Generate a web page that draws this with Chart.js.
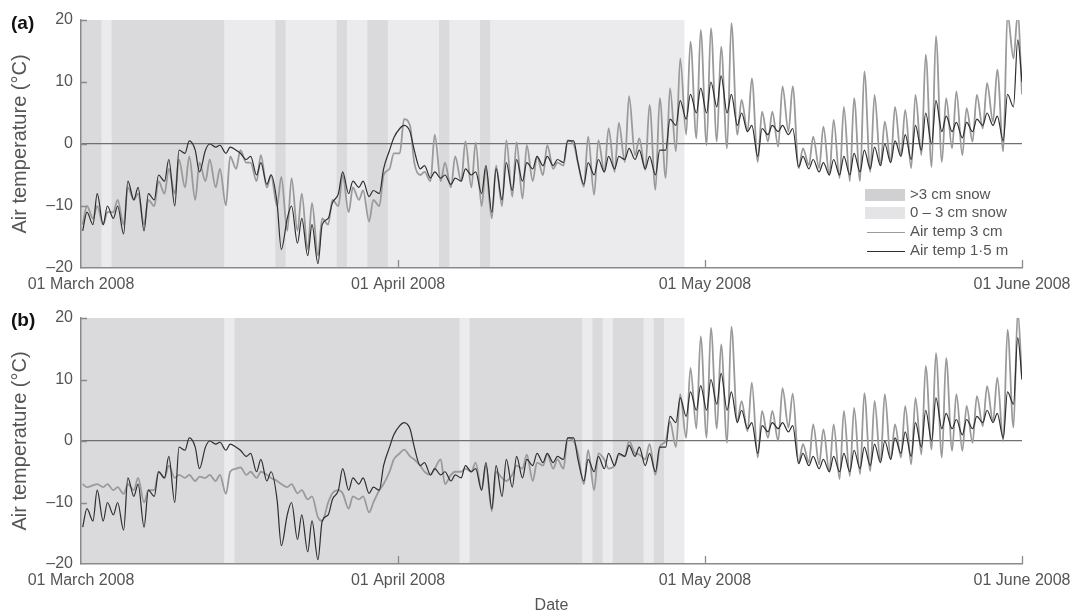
<!DOCTYPE html>
<html>
<head>
<meta charset="utf-8">
<script src="https://cdn.jsdelivr.net/npm/chart.js@4.4.1/dist/chart.umd.min.js"></script>
<style>
  html, body { margin: 0; padding: 0; background: #fff; }
  #wrap { position: relative; width: 1073px; height: 616px; overflow: hidden;
          font-family: "Liberation Sans", Arial, sans-serif; }
  #wrap canvas { position: absolute; left: 0; }
  #cA { top: 0; }
  #cB { top: 298px; }
  .panel { position: absolute; left: 11px; font-weight: bold; font-size: 19px;
           color: #111; line-height: 1; }
</style>
</head>
<body>
<div id="wrap">
  <canvas id="cA" width="1073" height="300"></canvas>
  <canvas id="cB" width="1073" height="318"></canvas>
  <div class="panel" style="top:13px">(a)</div>
  <div class="panel" style="top:310px">(b)</div>
</div>
<script>
// Days counted from 01 March 2008 00:00
const monthTickDays = [0, 31, 61, 92];
const monthTickLabels = ['01 March 2008', '01 April 2008', '01 May 2008', '01 June 2008'];
const tempTicks = [-20, -10, 0, 10, 20];

// Two readings a day (04:00 and 14:00), plus a closing reading at 01 June 00:00
const sampleHours = [4, 14];

// Air temperature 1.5 m above ground (same station for both sites), degC
const air150 = [
  -14,-11, -13,-8, -13,-10, -12,-10, -14.5,-6, -9,-7, -14,-8, -9,-5, -6,-2.5, -10,-1,
  -1.5,0.5, -1,-4.5, -1,0, -0.5,-0.2, -1.5,-0.5, -1,-1.5, -2.5,-2, -5,-3, -6.5,-5, -9.5,-17,
  -12,-10, -16,-12, -18,-13, -19.3,-13, -12,-9.5, -8,-4.5, -8,-6, -7,-6, -8.5,-7.5, -8,-4,
  -1,1, 2.5,3, 2,-1, -4,-3.5, -5.5,-4.5, -5.5,-5, -6.5,-5.5, -6,-4, -5,-4.5, -8,-3.5,
  -11,-4, -9,-3, -7.5,-2.5, -6,-3, -4,-2, -3.5,-2, -3.5,-2.5, -3,0.5, 0.5,-3, -6.5,-3,
  -5,-2.5, -4.5,-2, -4,-2, -2.5,-0.7, -2.5,-1, -4,-2, -5,-1, -1,4, 3,7, 4,8,
  5,9, 5,10, 6,11, 5,8, 3,5, 2,3, -2,2.5, 1.5,3, 2,3, 1.5,2.5,
  -3.7,-2, -4,-2.5, -4.5,-3, -5,-2.5, -5,-2, -5,-1.5, -4.5,-1, -4,-0.5, -3.5,0, -3,0.5,
  -2,1.5, -2.5,3, -1,5, 0,7, 2,4.5, 2,3.5, 1,3.5, 2,4, 3,5, 3,4.5,
  0.5,8, 6,16.8, 10
];

// Air temperature 3 cm above ground, site (a)
const air3a = [
  -13,-10, -12,-10, -13,-11, -11,-9, -13,-7, -9,-8, -13,-9, -10,-6, -8,-4, -8,-2.5,
  -7,-2, -9,-3, -6,-2.5, -7,-4, -9.9,-2, -4,-1, -3,-3, -6,-1.8, -7,-5, -10,-5.3,
  -14,-5.5, -14,-8, -17,-9.5, -18,-12, -13,-9, -10,-5, -11,-7, -9,-7.5, -12.5,-9, -10,-5,
  -4,-1.5, -1.5,4, 3,-3, -5,-4.5, -6,1.5, -6,-3, -7,-2, -6,0.4, -7,0.2, -10,-4,
  -12,-3.5, -10,0.6, -8.5,0.3, -8.8,-0.2, -6,-2, -5,-0.2, -4,-3, -3.5,0.6, 0,-3, -6.9,1.2,
  -8.2,0.6, -4.5,2.5, -4.5,3.4, -2.9,7.7, -1.8,0.9, -4.2,6.3, -7.4,7.4, -5.5,9, -1.2,13.8, 1.5,16.5,
  0.9,18.4, -0.2,18.7, 0.4,15.7, -0.7,19.5, 1.5,7.1, 2,10.6, -2.9,5.2, 0.4,5.2, -0.4,9.3, 2,9.3,
  -3.9,-0.7, -3.4,1.2, -3.9,2.8, -5,3.9, -5.5,6, -6,7.4, -6,11.7, -4.5,7.9, -3.4,3.6, -2.9,6,
  -1.8,5.5, -3.9,7.9, -1.8,14.4, -3.7,17.4, -2.9,7.4, -0.7,8.5, -1.8,5.8, 0.4,7.9, 2.5,9.8, 3.6,12,
  -1.2,21, 13.8,21, 8
];

// Air temperature 3 cm above ground, site (b)
const air3b = [
  -7,-7.5, -7.2,-7, -7.5,-7, -8,-7.5, -8.6,-7, -8,-6, -10,-8, -8,-5, -6,-4, -6,-5.5,
  -6,-5.5, -6.5,-5.8, -6,-5.5, -6.5,-5.5, -8.6,-5, -4.5,-4.3, -5.5,-5, -6,-5, -5.5,-6, -6.5,-7,
  -7.5,-7, -8.5,-8, -9.5,-9, -12.4,-13, -10,-8.5, -8,-8.5, -11,-9, -9.5,-9, -11.6,-10, -8,-7,
  -5,-3, -2,-1.4, -2.5,-3, -4,-5, -5.5,-4.5, -3,-7, -5.5,-5, -5,-4.5, -5,-3.5, -8,-4,
  -11.4,-5, -6,-6.5, -5.5,-4, -4.5,-2.2, -6.5,-3.5, -4,-2.2, -4.5,-3, -4.5,0.5, 0,-2, -7,-1.5,
  -8,-2, -3,-4.5, -4,-2.2, -2.5,0, -2,-2.2, -3,-0.5, -5.5,-1, 0,3.2, -1,7.6, 0.5,11.9,
  2,17, 0.5,18.4, 2,15.7, -0.3,18.6, 3.2,6.5, 1.6,9.5, -2.7,4.9, 0.5,4.9, 0,8.6, 2.2,7.7,
  -3.5,-0.5, -3.5,2.7, -3.8,1.9, -5,2.7, -6.2,4.9, -5.7,5.4, -5.4,7.8, -4.9,6.5, -3.5,7.6, -3,2.7,
  -2.7,5.7, -3.8,7, -2.2,12.2, -1.4,14.3, -2.7,13.5, -1.6,7.6, -1.6,5.7, -0.3,7.3, 2.4,8.9, 3.2,10.3,
  0,18.1, 2.2,21, 10
];

// Snow cover periods as [startDay, endDay]
const anySnowA  = [[0, 59]];
const deepSnowA = [[0, 2], [3, 14], [19, 20], [25, 26], [28, 30], [35, 36], [39, 40]];
const anySnowB  = [[0, 59]];
const deepSnowB = [[0, 14], [15, 37], [38, 49], [50, 51], [52, 55], [56, 57]];

const legendLabels = ['>3 cm snow', '0 \u2013 3 cm snow', 'Air temp 3 cm', 'Air temp 1\u00b75 m'];

const COL = {
  deep: '#dadadc', shallow: '#ebebed', deepKey: '#d0d0d2', shallowKey: '#e4e4e6',
  air3: '#9a9a9a', air150: '#2e2e2e', axis: '#8a8a8a', zero: '#707070', text: '#555'
};

Chart.defaults.font.family = '"Liberation Sans", Arial, Helvetica, sans-serif';

function toPoints(values) {
  const closing = values.length % 2 === 1;
  return values.map((v, i) => {
    const day = Math.floor(i / 2);
    const x = (closing && i === values.length - 1) ? day : day + sampleHours[i % 2] / 24;
    return { x, y: v };
  });
}

// Shaded snow-cover bands behind everything else
const snowBands = {
  id: 'snowBands',
  beforeDraw(chart, args, opts) {
    const { ctx, scales: { x, y } } = chart;
    const top = y.getPixelForValue(y.max), bot = y.getPixelForValue(y.min);
    ctx.save();
    const paint = (ranges, color) => {
      ctx.fillStyle = color;
      (ranges || []).forEach(([s, e]) => {
        const x0 = x.getPixelForValue(s), x1 = x.getPixelForValue(e);
        ctx.fillRect(x0, top, x1 - x0, bot - top);
      });
    };
    paint(opts.any, COL.shallow);
    paint(opts.deep, COL.deep);
    ctx.restore();
  }
};

// Tick marks pointing into the plot area
const innerTicks = {
  id: 'innerTicks',
  afterDatasetsDraw(chart) {
    const { ctx, chartArea: a, scales: { x, y } } = chart;
    ctx.save();
    ctx.strokeStyle = COL.axis;
    ctx.lineWidth = 1.3;
    ctx.beginPath();
    y.ticks.forEach(t => {
      if (t.value === y.min) return;
      const py = Math.round(y.getPixelForValue(t.value)) + 0.5;
      ctx.moveTo(a.left, py); ctx.lineTo(a.left + 6, py);
    });
    x.ticks.forEach(t => {
      if (t.value === x.min) return;
      const px = Math.round(x.getPixelForValue(t.value)) + 0.5;
      ctx.moveTo(px, a.bottom); ctx.lineTo(px, a.bottom - 8);
    });
    ctx.stroke();
    ctx.restore();
  }
};

// Key for snow bands and the two temperature traces
const snowLegend = {
  id: 'snowLegend',
  afterDraw(chart, args, opts) {
    if (!opts.show) return;
    const { ctx, chartArea: a } = chart;
    const keyLeft = a.right - 157, keyRight = a.right - 117, textX = a.right - 112;
    const rows = [a.bottom - 73, a.bottom - 55, a.bottom - 36, a.bottom - 17];
    const swatch = [COL.deepKey, COL.shallowKey, COL.air3, COL.air150];
    ctx.save();
    ctx.font = '15px "Liberation Sans", Arial, sans-serif';
    ctx.textBaseline = 'middle';
    ctx.textAlign = 'left';
    legendLabels.forEach((label, i) => {
      const cy = rows[i];
      if (i < 2) {
        ctx.fillStyle = swatch[i];
        ctx.fillRect(keyLeft, cy - 6, keyRight - keyLeft, 12);
      } else {
        ctx.strokeStyle = swatch[i];
        ctx.lineWidth = 1;
        ctx.beginPath();
        ctx.moveTo(keyLeft + 2, Math.round(cy) + 0.5);
        ctx.lineTo(keyRight, Math.round(cy) + 0.5);
        ctx.stroke();
      }
      ctx.fillStyle = COL.text;
      ctx.fillText(label, textX, cy);
    });
    ctx.restore();
  }
};

function makePanel(canvasId, air3, bands, opts) {
  return new Chart(document.getElementById(canvasId), {
    type: 'line',
    data: {
      datasets: [
        { label: 'Air temp 1\u00b75 m', data: toPoints(air150), borderColor: COL.air150,
          borderWidth: 1.2, pointRadius: 0, cubicInterpolationMode: 'monotone', order: 0 },
        { label: 'Air temp 3 cm', data: toPoints(air3), borderColor: COL.air3,
          borderWidth: 1.8, pointRadius: 0, cubicInterpolationMode: 'monotone', order: 1 }
      ]
    },
    options: {
      responsive: false,
      animation: false,
      events: [],
      devicePixelRatio: 1,
      layout: { padding: { top: 20, right: 51, left: 0, bottom: 0 } },
      scales: {
        x: {
          type: 'linear', min: 0, max: 92,
          afterBuildTicks: s => { s.ticks = monthTickDays.map(v => ({ value: v })); },
          afterFit: s => { s.height = opts.xHeight; s.paddingLeft = 0; s.paddingRight = 0; },
          grid: { display: false, drawTicks: false },
          border: { display: true, color: COL.axis, width: 1.5 },
          ticks: {
            autoSkip: false, maxRotation: 0, padding: 7, color: COL.text,
            font: { size: 16 },
            callback: v => monthTickLabels[monthTickDays.indexOf(v)]
          },
          title: {
            display: !!opts.dateTitle, text: 'Date', color: COL.text,
            font: { size: 16 }, padding: { top: 0, bottom: 1 }
          }
        },
        y: {
          min: -20, max: 20,
          afterBuildTicks: s => { s.ticks = tempTicks.map(v => ({ value: v })); },
          afterFit: s => { s.width = 81; s.paddingTop = 0; s.paddingBottom = 0; },
          grid: {
            drawTicks: false, lineWidth: 1.2,
            color: c => (c.tick && c.tick.value === 0) ? COL.zero : 'rgba(0,0,0,0)'
          },
          border: { display: true, color: COL.axis, width: 1.5 },
          ticks: {
            padding: 8, color: COL.text, font: { size: 16 },
            callback: v => v < 0 ? '\u2013' + (-v) : String(v)
          },
          title: {
            display: true, text: 'Air temperature (\u00b0C)', color: COL.text,
            font: { size: 20 }, padding: { top: 8, bottom: 0 }
          }
        }
      },
      plugins: {
        legend: { display: false },
        tooltip: { enabled: false },
        snowBands: bands,
        snowLegend: { show: !!opts.legend }
      }
    },
    plugins: [snowBands, innerTicks, snowLegend]
  });
}

makePanel('cA', air3a, { any: anySnowA, deep: deepSnowA }, { xHeight: 32, legend: true });
makePanel('cB', air3b, { any: anySnowB, deep: deepSnowB }, { xHeight: 52, dateTitle: true });
</script>
</body>
</html>
